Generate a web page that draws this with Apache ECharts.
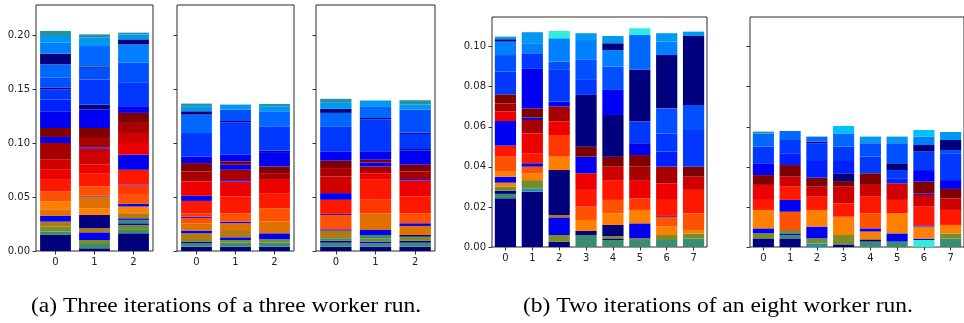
<!DOCTYPE html>
<html>
<head>
<meta charset="utf-8">
<script src="https://cdn.jsdelivr.net/npm/echarts@6/dist/echarts.min.js"></script>
<style>html,body{margin:0;padding:0;background:#fff;}#c{width:964px;height:323px;}</style>
</head>
<body>
<div id="c"></div>
<script>
// ---------- DATA ----------
// x categories (worker index)
const workersA = ['0', '1', '2'];
const workersB = ['0', '1', '2', '3', '4', '5', '6', '7'];
// y tick labels
const ticksA = [0, 0.05, 0.10, 0.15, 0.20];
const ticksB = [0, 0.02, 0.04, 0.06, 0.08, 0.10];
const captionA = '(a) Three iterations of a three worker run.';
const captionB = '(b) Two iterations of an eight worker run.';

// Each bar: list of [cumulative top value, segment kind] from bottom to top
// (a) three worker run, iteration 1
const runA_it1 = [
  [[0.0149,'N'],[0.0180,'G'],[0.0226,'O'],[0.0272,'Y'],[0.0325,'B'],[0.0381,'OD'],[0.0458,'O1'],[0.0551,'O2'],[0.0659,'R'],[0.0752,'R2'],[0.0845,'R3'],[0.1000,'DR'],[0.1056,'B'],[0.1139,'M'],[0.1294,'B'],[0.1402,'B2'],[0.1495,'B3'],[0.1511,'N'],[0.1604,'A'],[0.1728,'A2'],[0.1827,'N'],[0.1929,'A3'],[0.1991,'S'],[0.2037,'T']],
  [[0.0025,'N'],[0.0065,'G'],[0.0102,'O'],[0.0173,'B'],[0.0211,'Y'],[0.0334,'N'],[0.0396,'O1'],[0.0505,'OD'],[0.0511,'B'],[0.0598,'O2'],[0.0721,'R'],[0.0799,'R2'],[0.0947,'R3'],[0.0960,'B'],[0.1046,'DR'],[0.1139,'M'],[0.1310,'B'],[0.1356,'N'],[0.1588,'B3'],[0.1697,'A'],[0.1709,'N'],[0.1898,'A2'],[0.1975,'S'],[0.2006,'T']],
  [[0.0164,'N'],[0.0195,'G'],[0.0241,'O'],[0.0257,'B'],[0.0288,'G'],[0.0303,'B'],[0.0350,'Y'],[0.0412,'O1'],[0.0437,'B'],[0.0520,'O2'],[0.0607,'O3'],[0.0613,'B'],[0.0752,'R'],[0.0892,'B'],[0.1000,'R2'],[0.1093,'R3'],[0.1186,'DR'],[0.1279,'M'],[0.1341,'B'],[0.1557,'B3'],[0.1743,'A'],[0.1913,'A3'],[0.1960,'N'],[0.2006,'S'],[0.2022,'T']]
];
// (a) iteration 2
const runA_it2 = [
  [[0.0040,'N'],[0.0071,'G'],[0.0087,'N'],[0.0102,'O'],[0.0164,'Y'],[0.0189,'B'],[0.0257,'OD'],[0.0307,'O2'],[0.0319,'B'],[0.0350,'O3'],[0.0464,'R'],[0.0511,'B'],[0.0644,'R2'],[0.0737,'DR'],[0.0814,'M'],[0.0876,'B'],[0.1093,'B3'],[0.1263,'A2'],[0.1294,'N'],[0.1341,'S'],[0.1365,'T']],
  [[0.0040,'N'],[0.0077,'G'],[0.0102,'O'],[0.0127,'B'],[0.0195,'Y'],[0.0257,'OD'],[0.0272,'B'],[0.0350,'O2'],[0.0505,'R'],[0.0644,'R2'],[0.0656,'B'],[0.0752,'DR'],[0.0799,'B'],[0.0830,'M'],[0.0892,'B'],[0.1192,'B3'],[0.1204,'N'],[0.1310,'A'],[0.1356,'S']],
  [[0.0040,'N'],[0.0077,'G'],[0.0108,'O'],[0.0164,'B'],[0.0272,'OD'],[0.0396,'O2'],[0.0536,'R'],[0.0659,'R2'],[0.0721,'DR'],[0.0783,'M'],[0.0916,'B'],[0.0929,'N'],[0.1155,'B3'],[0.1294,'A2'],[0.1341,'S'],[0.1362,'T']]
];
// (a) iteration 3
const runA_it3 = [
  [[0.0040,'N'],[0.0077,'G'],[0.0096,'N'],[0.0118,'G'],[0.0189,'Y'],[0.0201,'B'],[0.0334,'O2'],[0.0344,'B'],[0.0474,'R'],[0.0536,'B'],[0.0690,'R3'],[0.0768,'DR'],[0.0836,'M'],[0.0923,'B'],[0.1155,'B3'],[0.1279,'A2'],[0.1316,'N'],[0.1372,'S'],[0.1409,'T']],
  [[0.0040,'N'],[0.0071,'G'],[0.0087,'B'],[0.0118,'O'],[0.0149,'G'],[0.0195,'B'],[0.0350,'OD'],[0.0474,'O3'],[0.0659,'R'],[0.0721,'R2'],[0.0783,'DR'],[0.0820,'B'],[0.0845,'M'],[0.0923,'B'],[0.1220,'B3'],[0.1232,'N'],[0.1341,'A2'],[0.1393,'S']],
  [[0.0040,'N'],[0.0077,'G'],[0.0096,'N'],[0.0133,'O'],[0.0149,'N'],[0.0232,'OD'],[0.0257,'B'],[0.0350,'O2'],[0.0505,'R'],[0.0653,'R2'],[0.0666,'B'],[0.0737,'DR'],[0.0799,'M'],[0.0932,'B'],[0.0944,'N'],[0.1084,'B3'],[0.1096,'N'],[0.1310,'A'],[0.1356,'S'],[0.1396,'T']]
];
// (b) eight worker run, iteration 1
const runB_it1 = [
  [[0.0243,'N'],[0.0265,'G'],[0.0281,'N'],[0.0301,'O'],[0.0321,'O1'],[0.0351,'B'],[0.0376,'O1'],[0.0451,'O2'],[0.0506,'R'],[0.0629,'B'],[0.0676,'R2'],[0.0717,'DR'],[0.0762,'M'],[0.0875,'B3'],[0.0958,'A'],[0.1025,'A3'],[0.1037,'N'],[0.1050,'S']],
  [[0.0276,'N'],[0.0293,'T'],[0.0334,'O'],[0.0368,'O1'],[0.0401,'O2'],[0.0418,'B'],[0.0468,'R'],[0.0567,'R2'],[0.0634,'DR'],[0.0646,'B'],[0.0692,'M'],[0.0892,'B'],[0.0967,'B3'],[0.1017,'A3'],[0.1072,'S']],
  [[0.0027,'N'],[0.0060,'O'],[0.0148,'B'],[0.0160,'Y'],[0.0384,'N'],[0.0451,'O1'],[0.0559,'O3'],[0.0626,'R2'],[0.0701,'DR'],[0.0726,'B'],[0.0884,'B3'],[0.0925,'A'],[0.1042,'A3'],[0.1078,'C']],
  [[0.0060,'G'],[0.0080,'N'],[0.0135,'O1'],[0.0201,'O2'],[0.0285,'R'],[0.0368,'R2'],[0.0451,'B'],[0.0501,'M'],[0.0759,'N'],[0.0834,'B3'],[0.0934,'A'],[0.1033,'A3'],[0.1067,'S']],
  [[0.0035,'G'],[0.0043,'N'],[0.0055,'O'],[0.0110,'N'],[0.0168,'O1'],[0.0235,'O2'],[0.0334,'R'],[0.0401,'R3'],[0.0451,'M'],[0.0659,'N'],[0.0784,'B'],[0.0900,'A'],[0.0983,'A3'],[0.1017,'N'],[0.1053,'S']],
  [[0.0035,'G'],[0.0043,'O'],[0.0118,'B'],[0.0185,'O1'],[0.0243,'O3'],[0.0334,'R2'],[0.0401,'DR'],[0.0459,'M'],[0.0518,'B'],[0.0626,'B3'],[0.0884,'N'],[0.1058,'A2'],[0.1092,'C']],
  [[0.0035,'G'],[0.0060,'O'],[0.0102,'O1'],[0.0151,'O2'],[0.0155,'B'],[0.0235,'R'],[0.0318,'R2'],[0.0401,'DR'],[0.0476,'B2'],[0.0567,'B3'],[0.0692,'A'],[0.0958,'N'],[0.1025,'A3'],[0.1067,'S']],
  [[0.0043,'G'],[0.0068,'O'],[0.0085,'O1'],[0.0168,'O2'],[0.0285,'R'],[0.0351,'R3'],[0.0401,'M'],[0.0584,'B3'],[0.0709,'A'],[0.1053,'N'],[0.1075,'S']]
];
// (b) iteration 2
const runB_it2 = [
  [[0.0043,'N'],[0.0068,'O'],[0.0093,'B'],[0.0185,'O1'],[0.0235,'R'],[0.0310,'R2'],[0.0359,'M'],[0.0418,'B'],[0.0501,'B3'],[0.0567,'A2'],[0.0576,'T']],
  [[0.0043,'N'],[0.0060,'G'],[0.0068,'B'],[0.0085,'O'],[0.0176,'O2'],[0.0235,'B'],[0.0301,'R'],[0.0351,'R3'],[0.0409,'M'],[0.0468,'B2'],[0.0534,'B3'],[0.0579,'A2']],
  [[0.0018,'T'],[0.0043,'O'],[0.0102,'B'],[0.0185,'O1'],[0.0251,'R'],[0.0301,'R3'],[0.0346,'M'],[0.0434,'B2'],[0.0518,'B3'],[0.0526,'N'],[0.0551,'A2']],
  [[0.0013,'N'],[0.0060,'O'],[0.0151,'O1'],[0.0218,'R'],[0.0301,'R3'],[0.0329,'M'],[0.0368,'N'],[0.0434,'B2'],[0.0501,'B3'],[0.0567,'A2'],[0.0604,'S2']],
  [[0.0027,'G'],[0.0038,'N'],[0.0077,'O1'],[0.0093,'B'],[0.0168,'O2'],[0.0251,'R'],[0.0310,'R3'],[0.0368,'M'],[0.0451,'B3'],[0.0518,'A'],[0.0551,'S']],
  [[0.0027,'G'],[0.0068,'B'],[0.0168,'O1'],[0.0235,'R'],[0.0318,'R3'],[0.0343,'B2'],[0.0384,'B3'],[0.0418,'N'],[0.0518,'A'],[0.0551,'S']],
  [[0.0035,'C'],[0.0042,'B'],[0.0102,'O1'],[0.0108,'B'],[0.0201,'R'],[0.0260,'R3'],[0.0266,'B'],[0.0326,'M'],[0.0384,'B'],[0.0476,'B3'],[0.0509,'N'],[0.0551,'A3'],[0.0584,'S2']],
  [[0.0043,'G'],[0.0068,'O'],[0.0110,'O1'],[0.0185,'R'],[0.0243,'R3'],[0.0290,'M'],[0.0334,'B'],[0.0468,'B3'],[0.0484,'A'],[0.0534,'N'],[0.0574,'S']]
];

// ---------- STYLE ----------
const KIND_COLORS = {
  N:'#00007f', B:'#0000f2', B2:'#0020ff', B3:'#0038ff', A:'#0050ff', A2:'#0068ff', A3:'#0080ff',
  S:'#0098f0', S2:'#00c0ff', T:'#2292a8', C:'#30ecdc', G:'#3a8c70', O:'#7a8c28', Y:'#b07a10',
  OD:'#e07000', O1:'#ff8000', O2:'#ff5200', O3:'#ff3800', R:'#ff1800', R2:'#ee0000',
  R3:'#d00000', DR:'#a80000', M:'#800000'
};

const panels = [
  {bars: runA_it1, cats: workersA, left: 36, width: 117, top: 5, height: 246, max: 0.2278, ticks: ticksA, labels: true},
  {bars: runA_it2, cats: workersA, left: 177, width: 117, top: 5, height: 246, max: 0.2278, ticks: ticksA, labels: false},
  {bars: runA_it3, cats: workersA, left: 316, width: 119, top: 5, height: 246, max: 0.2278, ticks: ticksA, labels: false},
  {bars: runB_it1, cats: workersB, left: 492, width: 215, top: 17, height: 230, max: 0.1148, ticks: ticksB, labels: true},
  {bars: runB_it2, cats: workersB, left: 750, width: 216, top: 17, height: 230, max: 0.1148, ticks: ticksB, labels: false}
];

const grid = [], xAxis = [], yAxis = [], series = [];
panels.forEach((p, i) => {
  grid.push({left: p.left, top: p.top, width: p.width, height: p.height, show: true,
    borderColor: '#2a2a2a', borderWidth: 1, containLabel: false});
  xAxis.push({type: 'category', gridIndex: i, data: p.cats,
    axisLine: {show: false}, axisTick: {show: true, alignWithLabel: true, length: 3.5, lineStyle: {color: '#333'}},
    axisLabel: {color: '#222', fontFamily: 'DejaVu Sans', fontSize: 10, margin: 6.5},
    splitLine: {show: false}});
  yAxis.push({type: 'value', gridIndex: i, min: 0, max: p.max,
    axisLine: {show: false},
    axisTick: {show: true, length: 3.5, lineStyle: {color: '#333'}, customValues: p.ticks},
    axisLabel: {show: p.labels, customValues: p.ticks, formatter: v => v.toFixed(2),
      color: '#222', fontFamily: 'DejaVu Sans', fontSize: 10, margin: 6},
    splitLine: {show: false}});
  const nSeg = Math.max(...p.bars.map(b => b.length));
  for (let k = 0; k < nSeg; k++) {
    series.push({
      type: 'bar', stack: 'p' + i, xAxisIndex: i, yAxisIndex: i,
      barWidth: '79%', silent: true, animation: false,
      data: p.bars.map(b => {
        if (!b[k]) return '-';
        const prev = k > 0 ? b[k - 1][0] : 0;
        return {value: +(b[k][0] - prev).toFixed(5),
          itemStyle: {color: KIND_COLORS[b[k][1]], borderWidth: 0}};
      })
    });
  }
});

const chart = echarts.init(document.getElementById('c'), null, {renderer: 'canvas'});
chart.setOption({
  animation: false,
  grid, xAxis, yAxis, series,
  graphic: [
    {type: 'text', x: 31, y: 297, scaleX: 1.175, style: {text: captionA, font: '20px "Liberation Serif"', fill: '#000'}},
    {type: 'text', x: 523, y: 297, scaleX: 1.175, style: {text: captionB, font: '20px "Liberation Serif"', fill: '#000'}}
  ]
});
</script>
</body>
</html>
